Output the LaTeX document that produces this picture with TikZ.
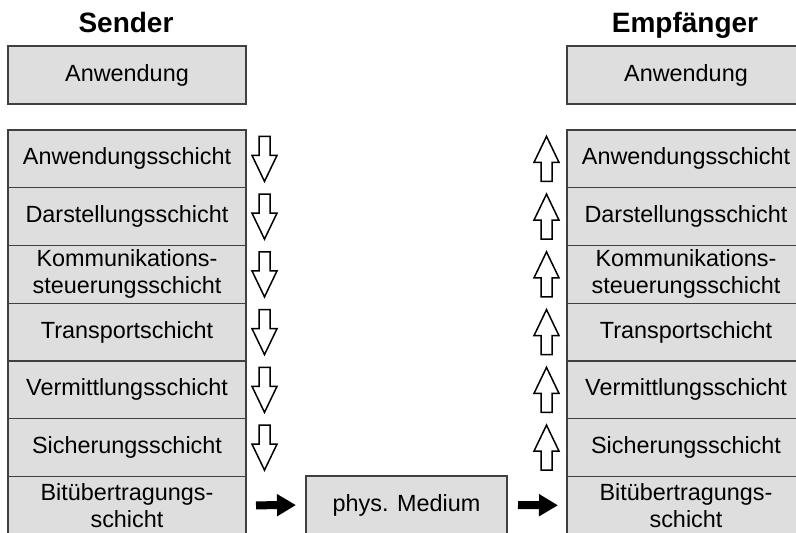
\documentclass[tikz,border=0pt]{standalone}
\usepackage{fontspec}
\setmainfont{Liberation Sans}
\usepackage{tikz}
\usetikzlibrary{arrows.meta}

\definecolor{boxfill}{gray}{0.87}
\definecolor{boxline}{gray}{0.25}

\tikzset{
    layer/.style={draw=boxline, fill=boxfill, line width=1.3pt, outer sep=0pt,
        minimum width=238pt, minimum height=57.75pt, inner sep=0pt, align=center,
        font={\fontsize{23.4pt}{27pt}\selectfont}},
    title/.style={font={\fontsize{28pt}{32pt}\selectfont\bfseries}, anchor=base},
    hollow/.style={draw=black, fill=white, line width=1.5pt, line join=miter},
    flow/.style={line width=8pt, -{Triangle[length=19pt,width=21pt]}}
}

\begin{document}
\begin{tikzpicture}[x=1pt, y=-1pt]
        \clip (0,0) rectangle (796,533);

        \node[title] (sender) at (126, 32) {Sender};
        \node[title] (empf) at (685, 32) {Empfänger};

        \node[layer, minimum height=58pt] (sapp) at (127, 75) {Anwendung};
        \node[layer, minimum height=58pt] (eapp) at (686, 75) {Anwendung};

        % Schichten auf beiden Seiten
        \foreach \i/\t in {1/Anwendungsschicht, 2/Darstellungsschicht,
                3/{Kommunikations-\\steuerungsschicht}, 4/Transportschicht,
                5/Vermittlungsschicht, 6/Sicherungsschicht,
                7/{Bitübertragungs-\\schicht}} {
            \pgfmathsetmacro\y{130 + 57.75*(\i - 0.5)}
            \node[layer] (s\i) at (127, \y) {\t};
            \node[layer] (e\i) at (686, \y) {\t};
        }

        % hohle Pfeile nach unten (Sender) und oben (Empfaenger)
        \foreach \i in {1,...,6} {
            \begin{scope}[shift={(s\i.east)}, xshift=18.5pt]
                \draw[hollow] (-5.5,-22.5) -- (5.5,-22.5) -- (5.5,-3.5) -- (12.5,-3.5)
                    -- (0,22.5) -- (-12.5,-3.5) -- (-5.5,-3.5) -- cycle;
            \end{scope}
            \begin{scope}[shift={(e\i.west)}, xshift=-20.5pt]
                \draw[hollow] (-5.5,22.5) -- (5.5,22.5) -- (5.5,3.5) -- (12.5,3.5)
                    -- (0,-22.5) -- (-12.5,3.5) -- (-5.5,3.5) -- cycle;
            \end{scope}
        }

        \node[layer, minimum width=201pt, minimum height=58pt] (med) at (406.5, 505) {phys. Medium};

        \draw[flow, shorten <=10pt, shorten >=10pt] (s7.east) -- (med.west);
        \draw[flow, shorten <=11pt, shorten >=9pt] (med.east) -- (e7.west);
    \end{tikzpicture}
\end{document}
